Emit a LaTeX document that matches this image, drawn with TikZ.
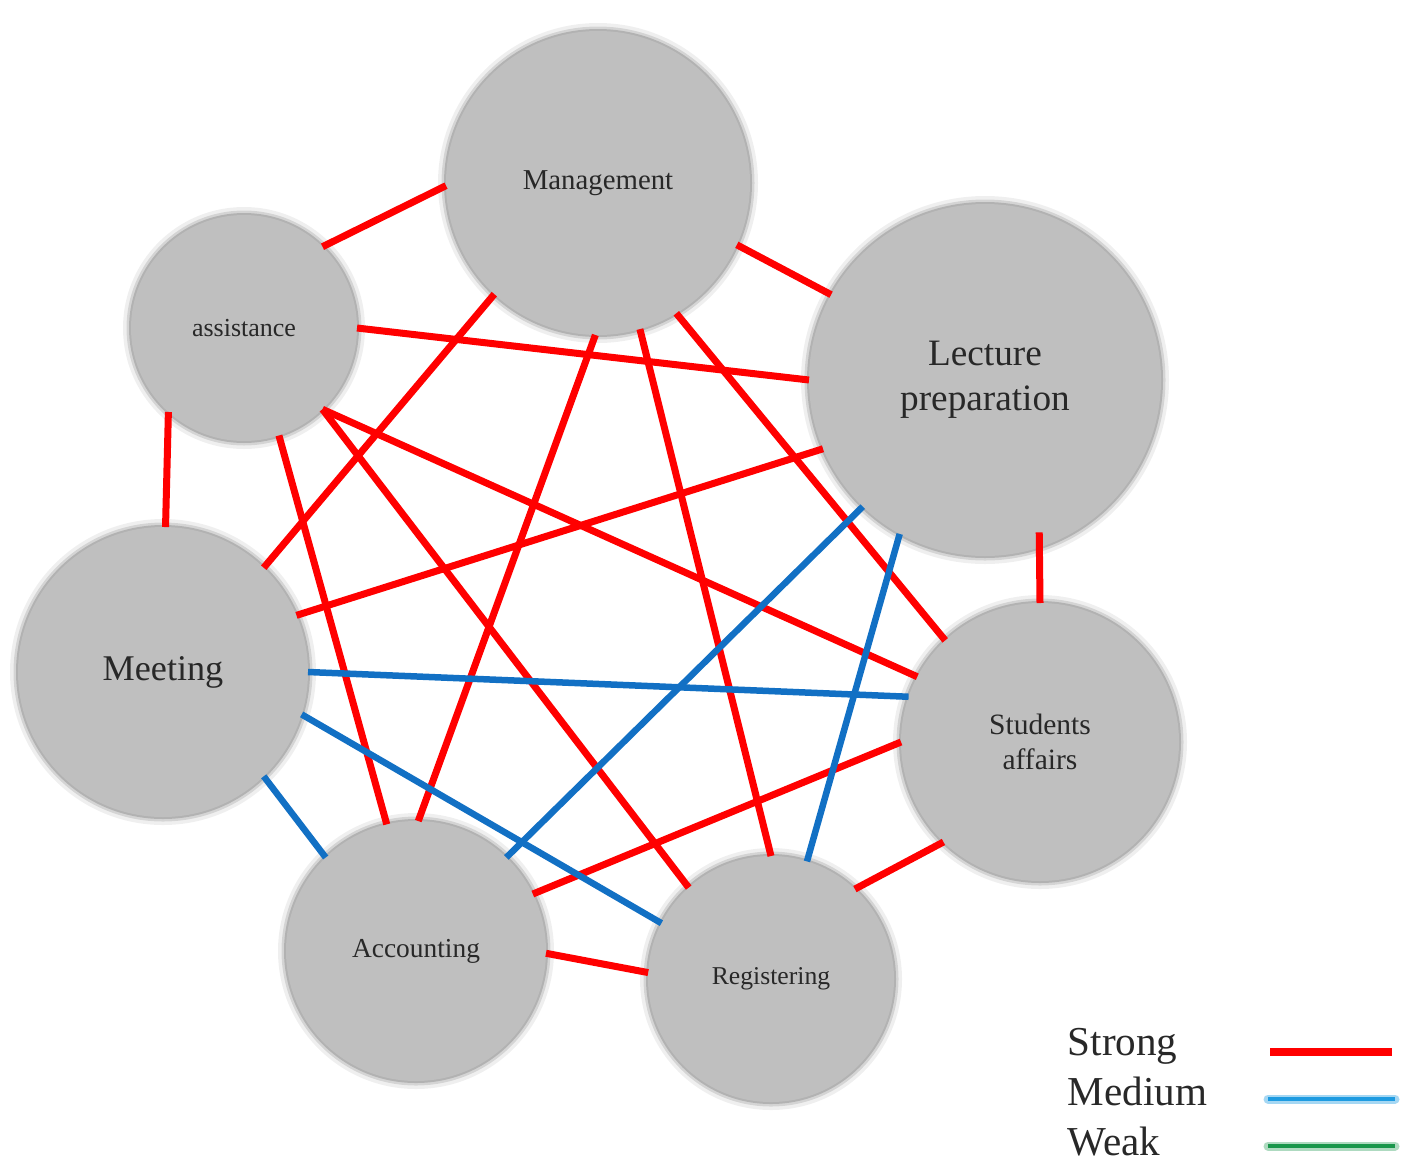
\documentclass[tikz,border=0pt]{standalone}
\usepackage{fontspec}
\setmainfont{Liberation Serif}
\usetikzlibrary{positioning}
\definecolor{bubblegray}{RGB}{191,191,191}
\definecolor{halogray}{RGB}{150,150,150}
\definecolor{labelgray}{RGB}{40,40,40}
\definecolor{strongred}{RGB}{255,0,0}
\definecolor{mediumblue}{RGB}{18,112,196}
\definecolor{keyblue}{RGB}{30,155,225}
\definecolor{weakgreen}{RGB}{25,150,75}
\newcommand{\fsz}[2]{\fontsize{#1}{#2}\selectfont}

\begin{document}
\begin{tikzpicture}[
    bubble/.style={circle, fill=bubblegray, text=labelgray, inner sep=0pt, outer sep=0pt, align=center,
      preaction={draw=halogray, draw opacity=0.15, line width=1.6mm},
      preaction={draw=halogray, draw opacity=0.30, line width=0.9mm},
      preaction={draw=halogray, draw opacity=0.55, line width=0.4mm}},
    strong/.style={draw=strongred, line width=0.7mm},
    medium/.style={draw=mediumblue, line width=0.65mm},
    keytext/.style={anchor=base west, inner sep=0pt, font=\fsz{11.7}{14}, text=labelgray}]
    \useasboundingbox (0,0) rectangle (14.09,-11.63);

    \node[bubble, minimum size=3.04cm, font=\fsz{8.2}{10}] (mgmt) at (5.98,-1.83) {Management};
    \node[bubble, minimum size=2.26cm, font=\fsz{7.4}{9}] (asst) at (2.44,-3.28) {assistance};
    \node[bubble, minimum size=3.52cm, font=\fsz{10.6}{12.8}] (lect) at (9.85,-3.80) {Lecture\\preparation};
    \node[bubble, minimum size=2.90cm, font=\fsz{10.3}{12}] (meet) at (1.63,-6.72) {Meeting};
    \node[bubble, minimum size=2.78cm, font=\fsz{8.4}{10}] (stud) at (10.40,-7.42) {Students\\affairs};
    \node[bubble, minimum size=2.46cm, font=\fsz{7.3}{9}] (reg) at (7.71,-9.79) {Registering};
    \node[bubble, minimum size=2.60cm, font=\fsz{7.8}{9}] (acct) at (4.16,-9.51) {Accounting};

    % strong ties
    \draw[strong] (asst.46) -- (mgmt.181);
    \draw[strong] (mgmt.-24) -- (lect.151);
    \draw[strong] (asst.0) -- (lect.180);
    \draw[strong] (asst.-132) -- (meet.89);
    \draw[strong] (mgmt.-133) -- (meet.46);
    \draw[strong] (mgmt.-91) -- (acct.89);
    \draw[strong] (mgmt.-74) -- (reg.90);
    \draw[strong] (mgmt.-59) -- (stud.133);
    \draw[strong] (lect.-157) -- (meet.23);
    \draw[strong, shorten <=-1.5mm] (lect.-72) -- (stud.90);
    \draw[strong] (asst.-72) -- (acct.103);
    \draw[strong] (asst.-46) -- (reg.132);
    \draw[strong] (asst.-46) -- (stud.152);
    \draw[strong] (stud.180) -- (acct.26);
    \draw[strong] (stud.-134) -- (reg.47);
    \draw[strong] (acct.-1) -- (reg.177);

    % medium ties
    \draw[medium] (meet.0) -- (stud.161);
    \draw[medium] (meet.-17) -- (reg.153);
    \draw[medium] (meet.-46) -- (acct.134);
    \draw[medium] (lect.-134) -- (acct.46);
    \draw[medium] (lect.-119) -- (reg.73);

    % legend
    \node[keytext] (strongkey) at (10.67,-10.55) {Strong};
    \node[keytext] (mediumkey) at (10.67,-11.05) {Medium};
    \node[keytext] (weakkey) at (10.67,-11.55) {Weak};
    \draw[strongred, line width=0.75mm] (12.70,-10.52) -- (13.92,-10.52);
    \draw[keyblue!40, line width=0.9mm, line cap=round] (12.68,-10.99) -- (13.95,-10.99);
    \draw[keyblue, line width=0.35mm] (12.68,-10.99) -- (13.95,-10.99);
    \draw[weakgreen!35, line width=0.9mm, line cap=round] (12.68,-11.46) -- (13.95,-11.46);
    \draw[weakgreen, line width=0.35mm] (12.68,-11.46) -- (13.95,-11.46);
\end{tikzpicture}
\end{document}
